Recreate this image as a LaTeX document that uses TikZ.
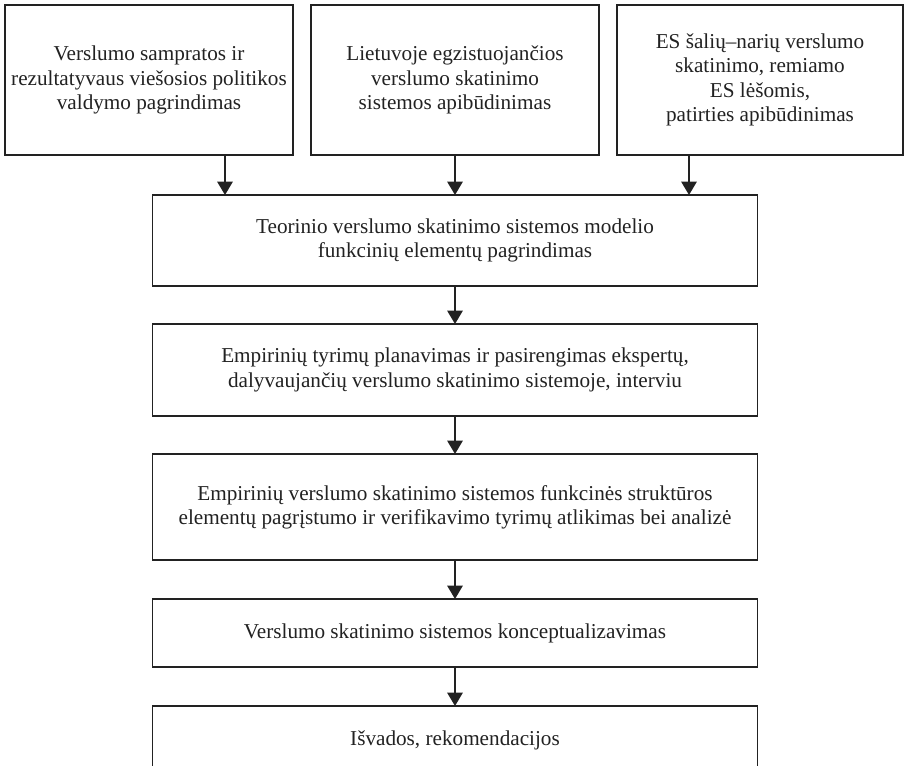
\documentclass[tikz,border=0pt]{standalone}
\usepackage{fontspec}
\setmainfont{Liberation Serif}
\usetikzlibrary{arrows.meta}
\definecolor{ink}{HTML}{222222}
\begin{document}
\begin{tikzpicture}[x=0.75pt,y=-0.75pt,
  box/.style={draw=ink,line width=1.4pt,inner sep=0pt,outer sep=0pt,
    align=center,text=ink,font=\fontsize{15.9}{18.2}\selectfont},
  arr/.style={draw=ink,line width=1.3pt,
    -{Triangle[width=11.5pt,length=10pt]}}]
  \useasboundingbox (0,0) rectangle (905,765);
  \fill[white] (0,0) rectangle (905,765);
  \clip (0,0) rectangle (905,765);

  % three source boxes
  \node[box,minimum width=288*0.75pt,minimum height=150*0.75pt] (b1) at (149,80)
    {Verslumo sampratos ir\\rezultatyvaus viešosios politikos\\valdymo pagrindimas};
  \node[box,minimum width=288*0.75pt,minimum height=150*0.75pt] (b2) at (455,80)
    {Lietuvoje egzistuojančios\\verslumo skatinimo\\sistemos apibūdinimas};
  \node[box,minimum width=286*0.75pt,minimum height=150*0.75pt] (b3) at (760,80)
    {ES šalių–narių verslumo\\skatinimo, remiamo\\ES lėšomis,\\patirties apibūdinimas};

  % main chain
  \node[box,minimum width=605*0.75pt,minimum height=91*0.75pt] (t) at (455,240.5)
    {Teorinio verslumo skatinimo sistemos modelio\\funkcinių elementų pagrindimas};
  \node[box,minimum width=605*0.75pt,minimum height=92*0.75pt] (e1) at (455,370)
    {Empirinių tyrimų planavimas ir pasirengimas ekspertų,\\dalyvaujančių verslumo skatinimo sistemoje, interviu};
  \node[box,minimum width=605*0.75pt,minimum height=106*0.75pt] (e2) at (455,507)
    {Empirinių verslumo skatinimo sistemos funkcinės struktūros\\elementų pagrįstumo ir verifikavimo tyrimų atlikimas bei analizė};
  \node[box,minimum width=605*0.75pt,minimum height=68*0.75pt] (v) at (455,633)
    {Verslumo skatinimo sistemos konceptualizavimas};
  \node[box,minimum width=605*0.75pt,minimum height=68*0.75pt] (f) at (455,740)
    {Išvados, rekomendacijos};

  % connectors
  \draw[arr] ([xshift=76*0.75pt]b1.south) -- ([xshift=76*0.75pt]b1.south |- t.north);
  \draw[arr] (b2.south) -- (t.north);
  \draw[arr] ([xshift=-71*0.75pt]b3.south) -- ([xshift=-71*0.75pt]b3.south |- t.north);
  \draw[arr] (t.south) -- (e1.north);
  \draw[arr] (e1.south) -- (e2.north);
  \draw[arr] (e2.south) -- (v.north);
  \draw[arr] (v.south) -- (f.north);
\end{tikzpicture}
\end{document}
